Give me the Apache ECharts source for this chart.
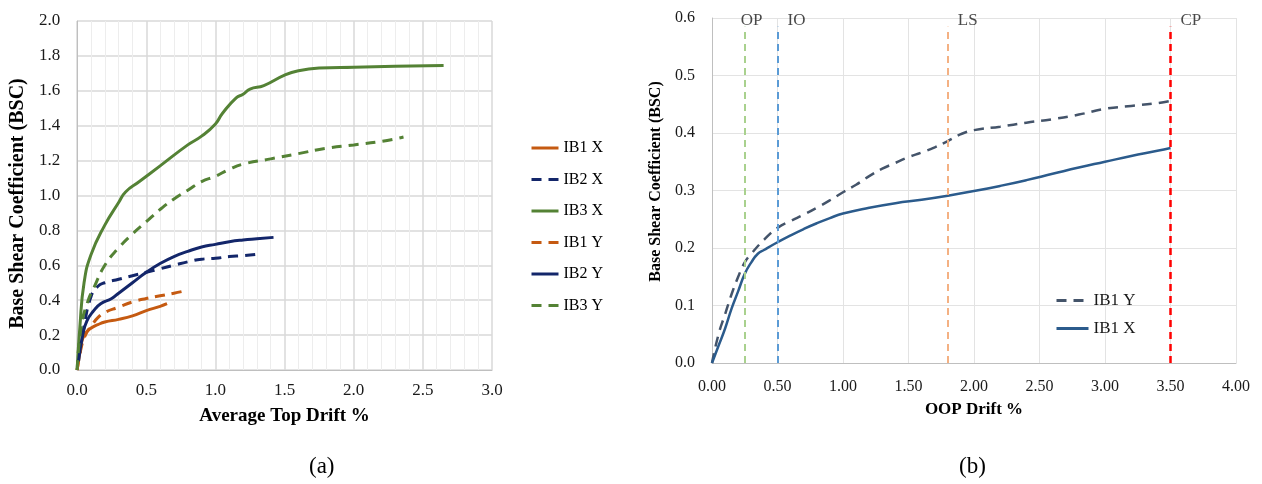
<!DOCTYPE html>
<html>
<head>
<meta charset="utf-8">
<script src="https://cdn.jsdelivr.net/npm/echarts@6/dist/echarts.min.js"></script>
<style>
  body { margin: 0; background: #fff; }
  #wrap { width: 1262px; height: 484px; position: relative; }
  #left { position: absolute; left: 0; top: 0; width: 640px; height: 484px; }
  #right { position: absolute; left: 640px; top: 0; width: 622px; height: 484px; }
</style>
</head>
<body>
<div id="wrap"><div id="left"></div><div id="right"></div></div>
<script>
// (a) pushover curves, [drift %, BSC]
var ib1x = [[0,0],[0.02,0.1],[0.04,0.18],[0.07,0.22],[0.1,0.24],[0.15,0.26],[0.2,0.275],[0.3,0.29],[0.4,0.31],[0.5,0.34],[0.6,0.365],[0.65,0.38]];
var ib2x = [[0.02,0.1],[0.05,0.25],[0.1,0.42],[0.15,0.48],[0.2,0.5],[0.3,0.52],[0.4,0.54],[0.5,0.56],[0.6,0.58],[0.7,0.6],[0.8,0.62],[0.9,0.635],[1.0,0.64],[1.1,0.65],[1.2,0.655],[1.32,0.665]];
var ib3x = [[0,0],[0.02,0.25],[0.05,0.5],[0.1,0.66],[0.2,0.83],[0.3,0.96],[0.35,1.02],[0.45,1.08],[0.6,1.17],[0.8,1.29],[0.9,1.34],[1.0,1.41],[1.05,1.47],[1.15,1.56],[1.2,1.58],[1.25,1.61],[1.35,1.63],[1.5,1.69],[1.6,1.715],[1.75,1.73],[2.0,1.735],[2.3,1.74],[2.65,1.745]];
var ib1y = [[0,0],[0.03,0.13],[0.06,0.2],[0.1,0.25],[0.15,0.3],[0.2,0.33],[0.3,0.36],[0.4,0.39],[0.5,0.41],[0.6,0.425],[0.7,0.44],[0.76,0.45]];
var ib2y = [[0.01,0.05],[0.04,0.2],[0.07,0.28],[0.12,0.34],[0.17,0.38],[0.25,0.41],[0.3,0.44],[0.4,0.5],[0.5,0.56],[0.6,0.61],[0.7,0.65],[0.8,0.68],[0.9,0.705],[1.0,0.72],[1.1,0.735],[1.2,0.745],[1.3,0.752],[1.42,0.76]];
var ib3y = [[0,0],[0.03,0.25],[0.08,0.4],[0.12,0.47],[0.2,0.6],[0.3,0.7],[0.4,0.78],[0.5,0.85],[0.6,0.92],[0.7,0.98],[0.8,1.03],[0.9,1.08],[1.0,1.11],[1.1,1.15],[1.2,1.18],[1.4,1.21],[1.6,1.24],[1.8,1.27],[2.0,1.29],[2.2,1.31],[2.36,1.335]];

// (b) IB1 out-of-plane curves
var oopX = [[0,0],[0.05,0.03],[0.1,0.06],[0.15,0.095],[0.2,0.125],[0.25,0.155],[0.3,0.175],[0.35,0.19],[0.4,0.197],[0.5,0.21],[0.6,0.222],[0.7,0.233],[0.8,0.243],[0.9,0.252],[1.0,0.26],[1.2,0.27],[1.4,0.278],[1.6,0.284],[1.8,0.291],[2.0,0.299],[2.2,0.308],[2.4,0.318],[2.6,0.329],[2.8,0.34],[3.0,0.35],[3.2,0.36],[3.4,0.369],[3.5,0.374]];
var oopY = [[0,0],[0.05,0.05],[0.1,0.085],[0.15,0.12],[0.2,0.15],[0.25,0.175],[0.3,0.19],[0.4,0.215],[0.5,0.235],[0.6,0.247],[0.7,0.258],[0.8,0.27],[0.9,0.283],[1.0,0.297],[1.1,0.31],[1.2,0.325],[1.3,0.338],[1.4,0.348],[1.5,0.358],[1.6,0.366],[1.7,0.375],[1.8,0.386],[1.9,0.398],[2.0,0.405],[2.2,0.411],[2.4,0.418],[2.6,0.424],[2.8,0.432],[3.0,0.442],[3.2,0.447],[3.4,0.452],[3.5,0.456]];

// performance levels
var levelNames = ['OP', 'IO', 'LS', 'CP'];
var levelDrift = [0.25, 0.5, 1.8, 3.5];
var levelColors = ['#A9D18E', '#5B9BD5', '#F4B183', '#FF0000'];

var serif = '"Liberation Serif", "DejaVu Serif", serif';
var ORANGE = '#C55A11', NAVY = '#13266A', GREEN = '#548235';
var INK = '#1a1a1a';

function line(name, data, color, dashed) {
  return {
    name: name, type: 'line', data: data, symbol: 'none', smooth: true,
    lineStyle: { color: color, width: 3, type: dashed ? [10, 7] : 'solid' },
    itemStyle: { color: color }
  };
}

var leftChart = echarts.init(document.getElementById('left'));
leftChart.setOption({
  animation: false,
  title: { text: '(a)', left: 304, top: 450, textStyle: { fontFamily: serif, fontSize: 23, fontWeight: 'normal', color: '#000' } },
  grid: { left: 77, top: 21, width: 415, height: 349 },
  legend: {
    orient: 'vertical', left: 525, top: 135, itemWidth: 27, itemHeight: 3, itemGap: 15.5,
    itemStyle: { opacity: 0 },
    lineStyle: { width: 3 },
    textStyle: { fontFamily: serif, fontSize: 16, color: '#000' },
    data: ['IB1 X', 'IB2 X', 'IB3 X', 'IB1 Y', 'IB2 Y', 'IB3 Y']
  },
  xAxis: {
    type: 'value', min: 0, max: 3, interval: 0.5,
    name: 'Average Top Drift %', nameLocation: 'middle', nameGap: 37,
    nameTextStyle: { fontFamily: serif, fontSize: 19, fontWeight: 'bold', color: '#000' },
    axisLine: { show: true, lineStyle: { color: '#BFBFBF' } },
    axisTick: { show: false },
    axisLabel: { fontFamily: serif, fontSize: 17, color: INK, margin: 12, formatter: function (v) { return v.toFixed(1); } },
    splitLine: { show: true, lineStyle: { color: '#D9D9D9', width: 1.5 } },
    minorTick: { show: false, splitNumber: 5 },
    minorSplitLine: { show: true, lineStyle: { color: '#EDEDED' } }
  },
  yAxis: {
    type: 'value', min: 0, max: 2, interval: 0.2,
    name: 'Base Shear Coefficient (BSC)', nameLocation: 'middle', nameGap: 46,
    nameTextStyle: { fontFamily: serif, fontSize: 20, fontWeight: 'bold', color: '#000', padding: [0, 16, 0, 0] },
    axisLine: { show: true, lineStyle: { color: '#BFBFBF' } },
    axisTick: { show: false },
    axisLabel: { fontFamily: serif, fontSize: 17, color: INK, margin: 17, formatter: function (v) { return v.toFixed(1); } },
    splitLine: { show: true, lineStyle: { color: '#D9D9D9', width: 1.5 } }
  },
  series: [
    line('IB1 X', ib1x, ORANGE, false),
    line('IB2 X', ib2x, NAVY, true),
    line('IB3 X', ib3x, GREEN, false),
    line('IB1 Y', ib1y, ORANGE, true),
    line('IB2 Y', ib2y, NAVY, false),
    line('IB3 Y', ib3y, GREEN, true)
  ]
});

var rightChart = echarts.init(document.getElementById('right'));
var levelLines = levelNames.map(function (n, i) {
  return [
    { coord: [levelDrift[i], 0], lineStyle: { color: levelColors[i], width: i === 3 ? 2.5 : 2, type: [7, 5] } },
    { coord: [levelDrift[i], 0.585] }
  ];
});
var levelLabels = levelNames.map(function (n, i) {
  return { name: n, value: [levelDrift[i], 0.596], label: { offset: i === 0 ? [-14, 0] : [0, 0] } };
});
rightChart.setOption({
  animation: false,
  title: { text: '(b)', left: 314, top: 450, textStyle: { fontFamily: serif, fontSize: 23, fontWeight: 'normal', color: '#000' } },
  grid: { left: 72, top: 18, width: 524, height: 345 },
  legend: {
    orient: 'vertical', left: 410, top: 287, itemWidth: 32, itemHeight: 3, itemGap: 11,
    itemStyle: { opacity: 0 },
    lineStyle: { width: 3 },
    textStyle: { fontFamily: serif, fontSize: 17, color: INK },
    data: ['IB1 Y', 'IB1 X']
  },
  xAxis: {
    type: 'value', min: 0, max: 4, interval: 0.5,
    name: 'OOP Drift %', nameLocation: 'middle', nameGap: 38,
    nameTextStyle: { fontFamily: serif, fontSize: 17, fontWeight: 'bold', color: '#000' },
    axisLine: { show: true, lineStyle: { color: '#BFBFBF' } },
    axisTick: { show: false },
    axisLabel: { fontFamily: serif, fontSize: 16, color: INK, margin: 16, formatter: function (v) { return v.toFixed(2); } },
    splitLine: { show: true, lineStyle: { color: '#E3E3E3' } }
  },
  yAxis: {
    type: 'value', min: 0, max: 0.6, interval: 0.1,
    name: 'Base Shear Coefficient (BSC)', nameLocation: 'middle', nameGap: 41,
    nameTextStyle: { fontFamily: serif, fontSize: 16, fontWeight: 'bold', color: '#000', padding: [0, 0, 0, 18] },
    axisLine: { show: true, lineStyle: { color: '#BFBFBF' } },
    axisTick: { show: false },
    axisLabel: { fontFamily: serif, fontSize: 16, color: INK, margin: 17, formatter: function (v) { return v.toFixed(1); } },
    splitLine: { show: true, lineStyle: { color: '#E3E3E3' } }
  },
  series: [
    {
      name: 'IB1 Y', type: 'line', data: oopY, symbol: 'none', smooth: true,
      lineStyle: { color: '#44546A', width: 2.5, type: [10, 7] }, itemStyle: { color: '#44546A' }, z: 3
    },
    {
      name: 'IB1 X', type: 'line', data: oopX, symbol: 'none', smooth: true,
      lineStyle: { color: '#2B5B8C', width: 2.5 }, itemStyle: { color: '#2B5B8C' }, z: 3,
      markLine: { silent: true, symbol: 'none', label: { show: false }, data: levelLines }
    },
    {
      name: 'levels', type: 'scatter', data: levelLabels, symbolSize: 0, silent: true,
      label: { show: true, position: 'right', distance: 10, formatter: '{b}', fontFamily: serif, fontSize: 17, color: INK }
    }
  ]
});
</script>
</body>
</html>
